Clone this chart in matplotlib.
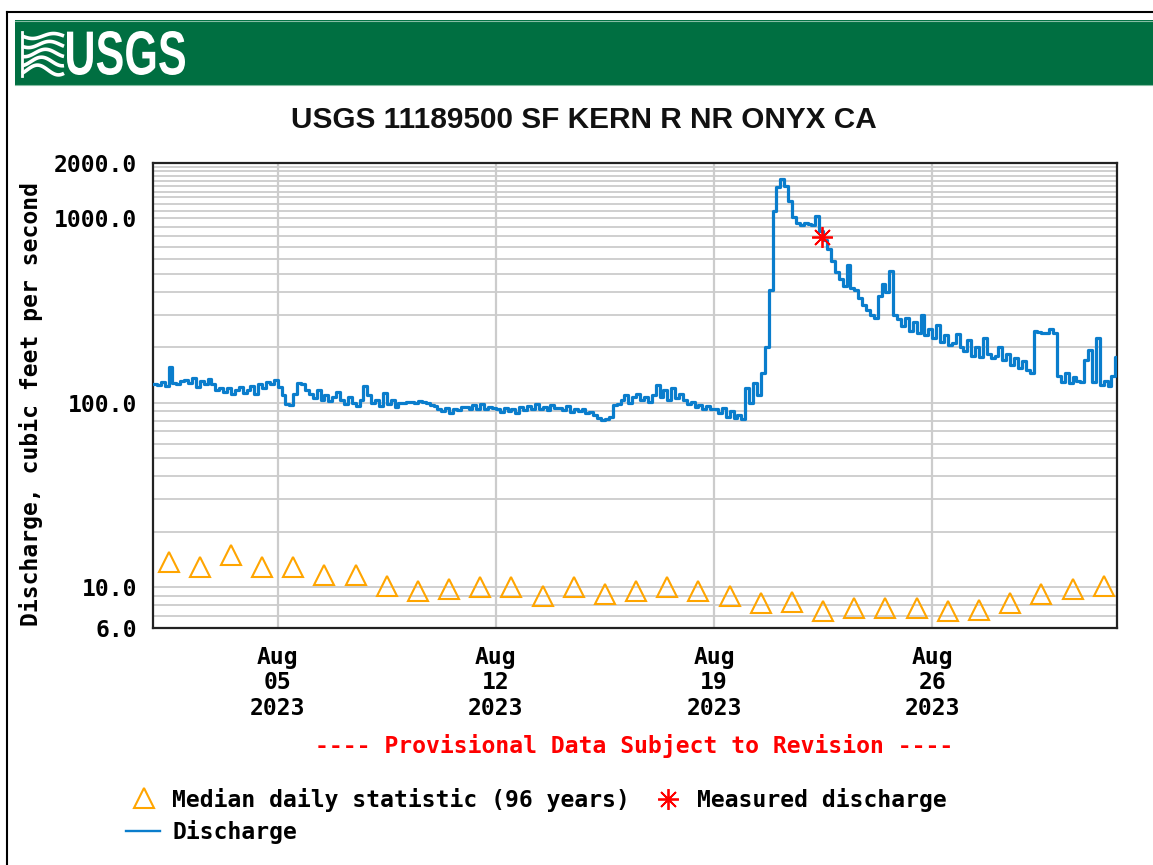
import numpy as np
import matplotlib
matplotlib.use("Agg")
import matplotlib.pyplot as plt
from matplotlib.patches import Rectangle, PathPatch
from matplotlib.textpath import TextPath
from matplotlib.font_manager import FontProperties
from matplotlib.transforms import Affine2D
from matplotlib.ticker import NullLocator
from datetime import datetime, timedelta

W, H, DPI = 1153, 865, 100

title = "USGS 11189500 SF KERN R NR ONYX CA"
ylabel = "Discharge, cubic feet per second"
provisional = "---- Provisional Data Subject to Revision ----"
legend_median = "Median daily statistic (96 years)"
legend_measured = "Measured discharge"
legend_discharge = "Discharge"

# Discharge readings (cfs), every 3 hours starting 2023-08-01 00:00, one row per day
discharge_by_day = [
    [127, 125, 130, 124, 157, 128, 126, 131],   # Aug 01
    [133, 128, 136, 122, 131, 126, 134, 127],   # Aug 02
    [118, 121, 114, 120, 112, 117, 122, 113],   # Aug 03
    [118, 124, 112, 127, 121, 130, 126, 133],   # Aug 04
    [122, 110, 98, 97, 112, 128, 126, 118],     # Aug 05
    [112, 106, 118, 104, 110, 102, 108, 114],   # Aug 06
    [104, 98, 108, 100, 96, 103, 124, 110],     # Aug 07
    [100, 104, 96, 113, 99, 103, 95, 100],      # Aug 08
    [100, 101, 101, 100, 102, 101, 100, 97],    # Aug 09
    [96, 92, 90, 94, 88, 93, 91, 95],           # Aug 10
    [95, 92, 97, 93, 99, 92, 95, 94],           # Aug 11
    [92, 89, 94, 90, 93, 88, 95, 91],           # Aug 12
    [96, 92, 98, 93, 95, 91, 97, 94],           # Aug 13
    [94, 91, 96, 89, 93, 90, 92, 88],           # Aug 14
    [89, 86, 83, 81, 82, 84, 97, 99],           # Aug 15
    [104, 110, 100, 107, 112, 103, 108, 101],   # Aug 16
    [110, 125, 108, 118, 104, 120, 106, 112],   # Aug 17
    [104, 99, 101, 95, 97, 92, 96, 93],         # Aug 18
    [92, 88, 94, 84, 90, 83, 86, 82],           # Aug 19
    [120, 100, 128, 110, 145, 200, 410, 1100],  # Aug 20
    [1480, 1630, 1500, 1250, 1020, 940, 920, 950],  # Aug 21
    [930, 920, 1030, 850, 760, 680, 590, 510],  # Aug 22
    [470, 430, 560, 420, 410, 370, 340, 320],   # Aug 23
    [300, 290, 380, 440, 400, 520, 300, 285],   # Aug 24
    [260, 290, 245, 275, 238, 300, 232, 250],   # Aug 25
    [225, 265, 215, 232, 205, 210, 235, 200],   # Aug 26
    [190, 220, 180, 200, 178, 225, 185, 176],   # Aug 27
    [180, 200, 170, 185, 160, 175, 155, 168],   # Aug 28
    [150, 145, 245, 242, 240, 238, 250, 240],   # Aug 29
    [140, 130, 145, 128, 138, 132, 130, 170],   # Aug 30
    [194, 130, 225, 125, 132, 124, 140, 178],   # Aug 31
]
discharge_last_time = datetime(2023, 8, 31, 22, 15)

# Median daily statistic (96 years), Aug 1..31
median_values = [13.7, 12.8, 14.9, 12.8, 12.8, 11.6, 11.6, 10.2, 9.5, 9.75,
                 10.0, 10.0, 9.0, 10.0, 9.2, 9.5, 10.0, 9.5, 9.0, 8.15,
                 8.35, 7.4, 7.75, 7.75, 7.75, 7.4, 7.56, 8.15, 9.2, 9.75, 10.2]

measured_time = datetime(2023, 8, 22, 11, 0)
measured_value = 790

ytick_values = [6, 10, 100, 1000, 2000]
ytick_labels = ["6.0", "10.0", "100.0", "1000.0", "2000.0"]
xtick_dates = [datetime(2023, 8, d) for d in (5, 12, 19, 26)]
xtick_labels = ["Aug\n05\n2023", "Aug\n12\n2023", "Aug\n19\n2023", "Aug\n26\n2023"]
grid_values = [7, 8, 9] + [10 * k for k in range(1, 10)] + [100 * k for k in range(1, 20)]

# ---- build series ----
t0 = datetime(2023, 8, 1)
disc_vals = [v for row in discharge_by_day for v in row]
disc_times = [t0 + timedelta(hours=3 * i) for i in range(len(disc_vals))]
disc_times.append(discharge_last_time)
disc_vals.append(disc_vals[-1])
median_times = [t0 + timedelta(days=i, hours=12) for i in range(len(median_values))]

BLUE = "#0a7dcc"
ORANGE = "#ffa500"
MONO = "DejaVu Sans Mono"
FS = 16.6

fig = plt.figure(figsize=(W / DPI, H / DPI), dpi=DPI)
fig.patch.set_facecolor("white")

L, R, T, B = 153, 1117, 163, 628
ax = fig.add_axes([L / W, 1 - B / H, (R - L) / W, (B - T) / H])
ax.set_yscale("log")
ax.set_ylim(6, 2000)
ax.set_xlim(t0, discharge_last_time)

for g in grid_values:
    if g > 6 and g < 2000:
        ax.axhline(g, color="#cccccc", lw=1.3, zorder=0)
for d in xtick_dates:
    ax.axvline(d, color="#cccccc", lw=1.6, zorder=0)

ax.plot(disc_times, disc_vals, drawstyle="steps-post", color=BLUE, lw=2.3, zorder=3)
ax.plot(median_times, median_values, ls="none", marker="^", ms=14, mfc="none",
        mec=ORANGE, mew=1.5, zorder=4, clip_on=False)
ax.plot([measured_time], [measured_value], ls="none", marker=(8, 2, 0), ms=15,
        color="red", mew=1.3, zorder=5)

ax.yaxis.set_minor_locator(NullLocator())
ax.set_yticks(ytick_values)
ax.set_yticklabels(ytick_labels)
ax.set_xticks(xtick_dates)
ax.set_xticklabels(xtick_labels, linespacing=1.13)
ax.xaxis.set_minor_locator(NullLocator())
ax.tick_params(axis="y", length=0, pad=11.5)
ax.tick_params(axis="x", length=0, pad=13)
for lab in ax.get_yticklabels() + ax.get_xticklabels():
    lab.set_fontfamily(MONO)
    lab.set_fontweight("bold")
    lab.set_fontsize(FS)
for sp in ax.spines.values():
    sp.set_linewidth(1.6)
    sp.set_color("#222222")

# ---- overlay in pixel coordinates ----
ov = fig.add_axes([0, 0, 1, 1], zorder=-1)
ov.set_xlim(0, W)
ov.set_ylim(H, 0)
ov.axis("off")

ov.plot([6.5, 6.5], [12, H], color="black", lw=1.5)
ov.plot([6.5, W], [12, 12], color="black", lw=1.5)
ov.add_patch(Rectangle((15, 20), W - 15, 65, fc="#006f41", ec="none"))
ov.plot([15, W], [20.5, 20.5], color="#86bda3", lw=0.8)
ov.plot([15, W], [84.5, 84.5], color="#86bda3", lw=0.8)

# USGS logo: wave icon + letters
xs = np.linspace(22, 64, 60)
for k in range(5):
    y0 = 36 + k * 8.5
    amp = 2.5 + 0.6 * k
    ys = y0 + amp * np.sin((xs - 22) / 42 * 2 * np.pi + k * 0.6)
    ov.plot(xs, ys, color="white", lw=2.6, solid_capstyle="butt")
ov.plot([22, 22], [32, 76], color="white", lw=2)

tp = TextPath((0, 0), "USGS", prop=FontProperties(family=["Liberation Sans Narrow", "Liberation Sans"], weight="bold"))
ext = tp.get_extents()
bx0, bx1, by0, by1 = 67, 185, 31, 75
sx = (bx1 - bx0) / ext.width
sy = (by1 - by0) / ext.height
tr = Affine2D().translate(-ext.x0, -ext.y0).scale(sx, -sy).translate(bx0, by1)
ov.add_patch(PathPatch(tr.transform_path(tp), fc="white", ec="none"))

fig.text(584 / W, 1 - 120 / H, title, ha="center", va="center", fontsize=21.4,
         family="Liberation Sans", weight="bold", color="#111111")
fig.text(31 / W, 1 - 404 / H, ylabel, rotation=90, ha="center", va="center",
         fontsize=FS, family=MONO, weight="bold")
fig.text(634 / W, 1 - 746 / H, provisional, ha="center", va="center",
         fontsize=FS, family=MONO, weight="bold", color="red")

# legend
fig.add_artist(plt.Line2D([144 / W], [1 - 798 / H], ls="none", marker="^", ms=14,
                          mfc="none", mec=ORANGE, mew=1.5))
fig.text(172 / W, 1 - 800 / H, legend_median, ha="left", va="center",
         fontsize=FS, family=MONO, weight="bold")
fig.add_artist(plt.Line2D([668 / W], [1 - 799 / H], ls="none", marker=(8, 2, 0),
                          ms=15, color="red", mew=1.3))
fig.text(697 / W, 1 - 800 / H, legend_measured, ha="left", va="center",
         fontsize=FS, family=MONO, weight="bold")
fig.add_artist(plt.Line2D([126 / W, 160 / W], [1 - 831 / H, 1 - 831 / H],
                          color=BLUE, lw=1.7))
fig.text(172 / W, 1 - 832 / H, legend_discharge, ha="left", va="center",
         fontsize=FS, family=MONO, weight="bold")

fig.savefig("out.png", dpi=DPI)
